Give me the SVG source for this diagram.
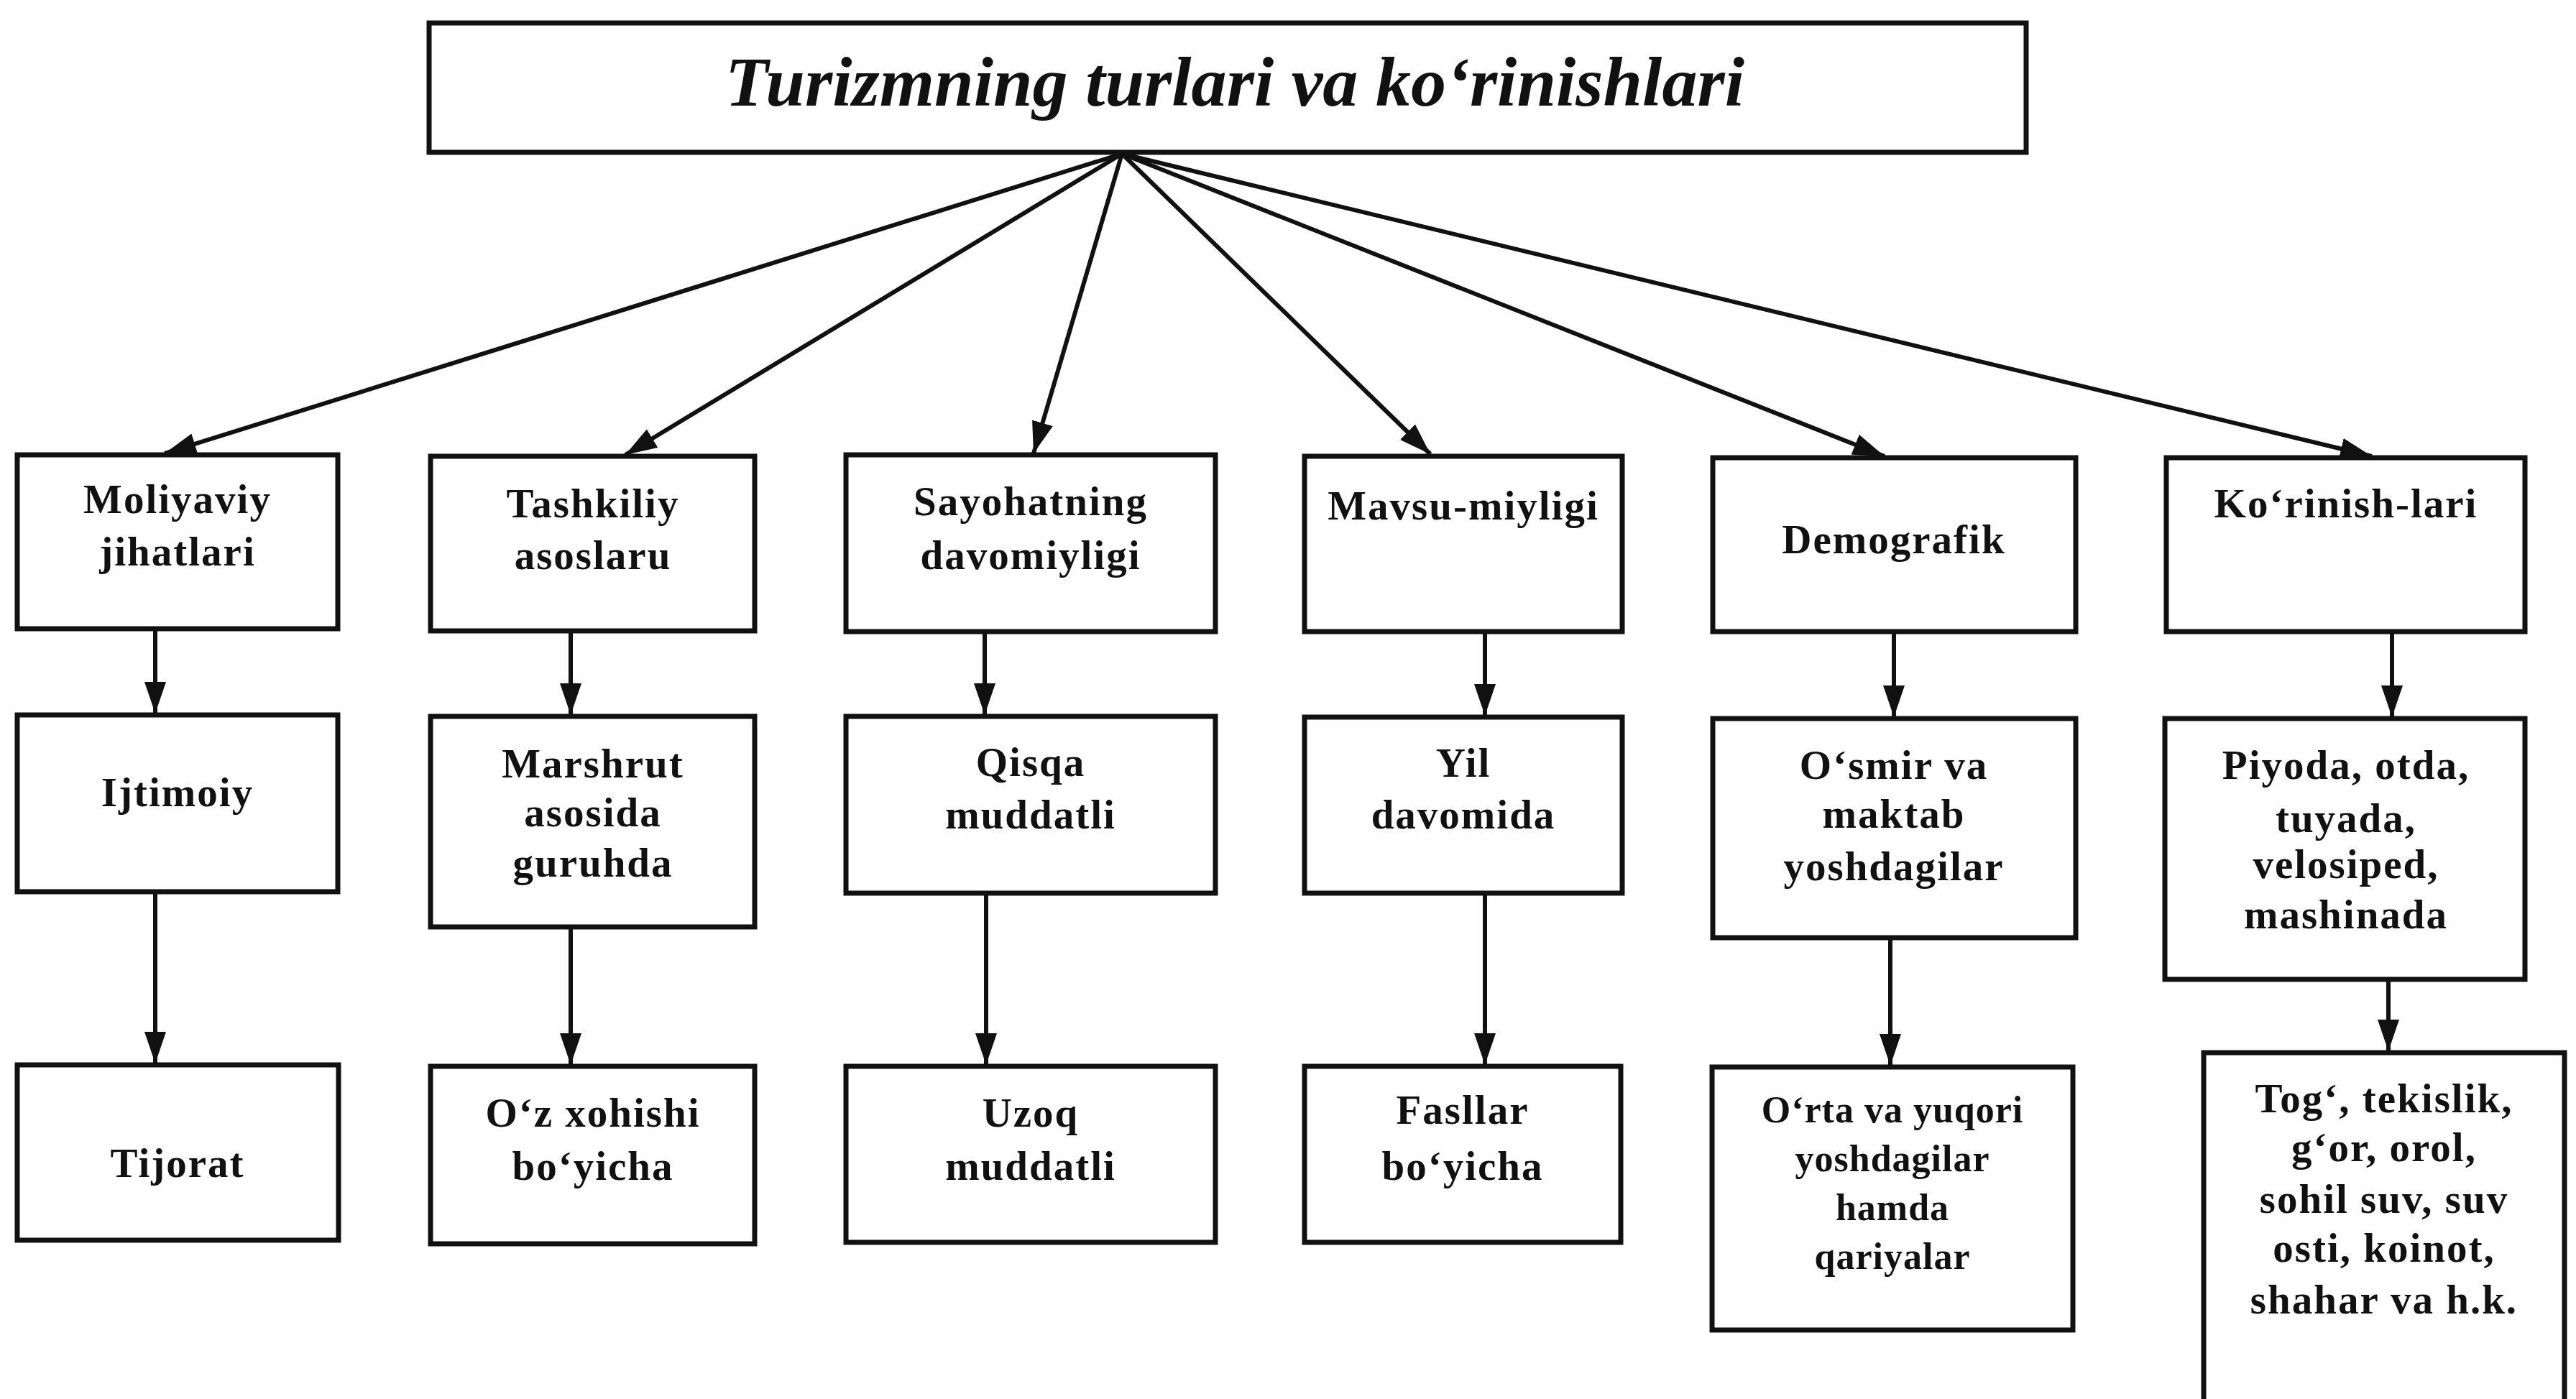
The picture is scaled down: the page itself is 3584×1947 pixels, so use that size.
<svg xmlns="http://www.w3.org/2000/svg" width="3584" height="1947" viewBox="0 0 3584 1947">
<style>
.box{fill:#fff;stroke:#111;stroke-width:7}
.t{font-family:"Liberation Serif","Times New Roman",serif;font-weight:bold;font-size:57px;text-anchor:middle;letter-spacing:2px;fill:#111}
.s{font-size:52px;letter-spacing:1px}
.title{font-family:"Liberation Serif","Times New Roman",serif;font-weight:bold;font-style:italic;font-size:98px;fill:#111}
.c{stroke:#111;stroke-width:6;fill:none;marker-end:url(#ah)}
</style>
<defs>
<marker id="ah" markerUnits="userSpaceOnUse" markerWidth="46" markerHeight="30" refX="44" refY="15" orient="auto">
<path d="M0,0 L44,15 L0,30 z" fill="#111"/>
</marker>
</defs>
<rect width="3584" height="1947" fill="#fff"/>
<g id="title"><rect class="box" x="597" y="32" width="2222" height="180"/>
<text class="title" x="1009" y="147" textLength="1418" lengthAdjust="spacingAndGlyphs">Turizmning turlari va ko‘rinishlari</text></g>

<g id="n1"><rect class="box" x="24" y="633" width="446" height="242"/><text class="t" x="247" y="714">Moliyaviy</text><text class="t" x="247" y="787">jihatlari</text></g>
<g id="n2"><rect class="box" x="599" y="635" width="451" height="243"/><text class="t" x="825" y="720">Tashkiliy</text><text class="t" x="825" y="792">asoslaru</text></g>
<g id="n3"><rect class="box" x="1177" y="633" width="514" height="246"/><text class="t" x="1434" y="717">Sayohatning</text><text class="t" x="1434" y="792">davomiyligi</text></g>
<g id="n4"><rect class="box" x="1815" y="635" width="442" height="244"/><text class="t" x="2036" y="723">Mavsu-miyligi</text></g>
<g id="n5"><rect class="box" x="2383" y="637" width="505" height="242"/><text class="t" x="2635" y="770">Demografik</text></g>
<g id="n6"><rect class="box" x="3014" y="637" width="499" height="242"/><text class="t" x="3264" y="720">Ko‘rinish-lari</text></g>

<g id="m1"><rect class="box" x="24" y="995" width="446" height="246"/><text class="t" x="247" y="1122">Ijtimoiy</text></g>
<g id="m2"><rect class="box" x="599" y="997" width="451" height="293"/><text class="t" x="825" y="1082">Marshrut</text><text class="t" x="825" y="1150">asosida</text><text class="t" x="825" y="1220">guruhda</text></g>
<g id="m3"><rect class="box" x="1177" y="997" width="514" height="246"/><text class="t" x="1434" y="1080">Qisqa</text><text class="t" x="1434" y="1153">muddatli</text></g>
<g id="m4"><rect class="box" x="1815" y="998" width="442" height="245"/><text class="t" x="2036" y="1081">Yil</text><text class="t" x="2036" y="1153">davomida</text></g>
<g id="m5"><rect class="box" x="2383" y="1000" width="505" height="305"/><text class="t" x="2635" y="1084">O‘smir va</text><text class="t" x="2635" y="1152">maktab</text><text class="t" x="2635" y="1225">yoshdagilar</text></g>
<g id="m6"><rect class="box" x="3012" y="1000" width="501" height="363"/><text class="t" x="3264" y="1084">Piyoda, otda,</text><text class="t" x="3264" y="1158">tuyada,</text><text class="t" x="3264" y="1222">velosiped,</text><text class="t" x="3264" y="1292">mashinada</text></g>

<g id="b1"><rect class="box" x="24" y="1482" width="447" height="244"/><text class="t" x="247" y="1638">Tijorat</text></g>
<g id="b2"><rect class="box" x="599" y="1484" width="451" height="247"/><text class="t" x="825" y="1568">O‘z xohishi</text><text class="t" x="825" y="1642">bo‘yicha</text></g>
<g id="b3"><rect class="box" x="1177" y="1484" width="514" height="245"/><text class="t" x="1434" y="1568">Uzoq</text><text class="t" x="1434" y="1642">muddatli</text></g>
<g id="b4"><rect class="box" x="1815" y="1484" width="440" height="245"/><text class="t" x="2035" y="1564">Fasllar</text><text class="t" x="2035" y="1642">bo‘yicha</text></g>
<g id="b5"><rect class="box" x="2382" y="1485" width="502" height="366"/><text class="t s" x="2633" y="1562">O‘rta va yuqori</text><text class="t s" x="2633" y="1630">yoshdagilar</text><text class="t s" x="2633" y="1698">hamda</text><text class="t s" x="2633" y="1766">qariyalar</text></g>
<g id="b6"><rect class="box" x="3066" y="1465" width="502" height="520"/><text class="t" x="3317" y="1548">Tog‘, tekislik,</text><text class="t" x="3317" y="1616">g‘or, orol,</text><text class="t" x="3317" y="1688">sohil suv, suv</text><text class="t" x="3317" y="1756">osti, koinot,</text><text class="t" x="3317" y="1828">shahar va h.k.</text></g>

<g id="connectors">
<line class="c" x1="1561" y1="214" x2="229" y2="631"/>
<line class="c" x1="1561" y1="214" x2="870" y2="633"/>
<line class="c" x1="1561" y1="214" x2="1438" y2="631"/>
<line class="c" x1="1561" y1="214" x2="1990" y2="632"/>
<line class="c" x1="1561" y1="214" x2="2622" y2="635"/>
<line class="c" x1="1561" y1="214" x2="3300" y2="635"/>
<line class="c" x1="216" y1="875" x2="216" y2="993"/>
<line class="c" x1="794" y1="878" x2="794" y2="995"/>
<line class="c" x1="1370" y1="879" x2="1370" y2="995"/>
<line class="c" x1="2066" y1="879" x2="2066" y2="996"/>
<line class="c" x1="2635" y1="879" x2="2635" y2="998"/>
<line class="c" x1="3328" y1="879" x2="3328" y2="998"/>
<line class="c" x1="216" y1="1241" x2="216" y2="1480"/>
<line class="c" x1="794" y1="1290" x2="794" y2="1482"/>
<line class="c" x1="1372" y1="1243" x2="1372" y2="1482"/>
<line class="c" x1="2066" y1="1243" x2="2066" y2="1482"/>
<line class="c" x1="2630" y1="1305" x2="2630" y2="1483"/>
<line class="c" x1="3323" y1="1363" x2="3323" y2="1463"/>
</g>
</svg>
